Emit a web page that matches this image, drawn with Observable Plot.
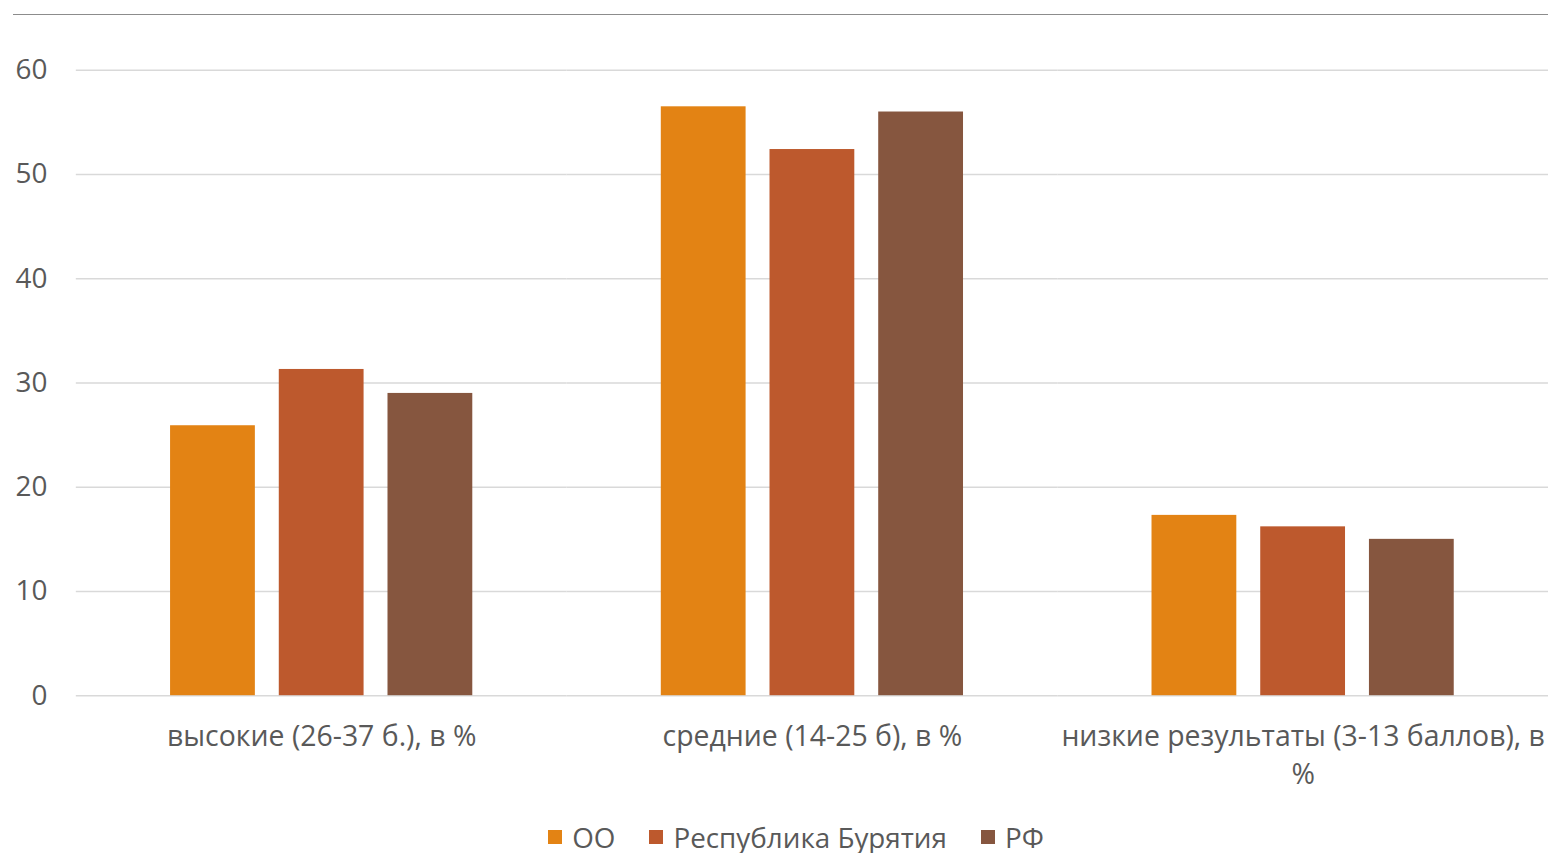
<!DOCTYPE html>
<html>
<head>
<meta charset="utf-8">
<script src="https://cdn.jsdelivr.net/npm/d3@7"></script>
<script src="https://cdn.jsdelivr.net/npm/@observablehq/plot@0.6"></script>
<style>
  html, body { margin: 0; padding: 0; background: #fff; }
  body { width: 1548px; height: 853px; position: relative; overflow: hidden; font-family: "Open Sans", sans-serif; }
  #topline { position: absolute; top: 14px; left: 13px; right: 0; border-top: 1.5px solid #8c8c8c; }
  #chart { position: absolute; top: 0; left: 0; }
  #legend { position: absolute; top: 818px; left: 22px; width: 1548px; display: flex; justify-content: center; align-items: center; gap: 34px; font-size: 27.8px; color: #595959; }
  .item { display: flex; align-items: center; gap: 10px; }
  .sw { width: 14px; height: 14px; display: inline-block; }
</style>
</head>
<body>
<div id="topline"></div>
<div id="chart"></div>
<div id="legend"></div>
<script>
const categories = ["высокие (26-37 б.), в %", "средние (14-25 б), в %", "низкие результаты (3-13 баллов), в %"];
const categoryLabels = ["высокие (26-37 б.), в %", "средние (14-25 б), в %", "низкие результаты (3-13 баллов), в\n%"];
const series = ["ОО", "Республика Бурятия", "РФ"];
const colors = ["#E38314", "#BD592D", "#86563F"];
const valuesOO = [25.9, 56.5, 17.3];
const valuesRB = [31.3, 52.4, 16.2];
const valuesRF = [29.0, 56.0, 15.0];
const yTicks = [0, 10, 20, 30, 40, 50, 60];

const seriesValues = [valuesOO, valuesRB, valuesRF];
const data = [];
categories.forEach((c, i) => series.forEach((s, j) => data.push({category: c, series: s, value: seriesValues[j][i]})));

const chart = Plot.plot({
  width: 1552,
  height: 802,
  marginLeft: 76,
  marginRight: 0,
  marginTop: 70,
  marginBottom: 105,
  style: {fontFamily: "Open Sans, sans-serif", fontSize: "28px", color: "#595959", background: "transparent", overflow: "visible"},
  fx: {domain: categories, padding: 0, label: null, round: false},
  x: {domain: series, paddingInner: 0.22, paddingOuter: 0.867, axis: null, round: false},
  y: {domain: [0, 60], label: null},
  color: {domain: series, range: colors},
  marks: [
    Plot.gridY(yTicks, {stroke: "#d9d9d9", strokeOpacity: 1, strokeWidth: 1.5}),
    Plot.axisY(yTicks, {tickSize: 0, tickPadding: 29, fontSize: 28, fill: "#595959"}),
    Plot.axisFx({anchor: "bottom", tickSize: 0, tickPadding: 24, fontSize: 28.5, fill: "#595959", lineHeight: 1.33,
      tickFormat: d => categoryLabels[categories.indexOf(d)], label: null}),
    Plot.barY(data, {fx: "category", x: "series", y: "value", fill: "series"})
  ]
});
document.getElementById("chart").appendChild(chart);

const legend = document.getElementById("legend");
series.forEach((s, j) => {
  const item = document.createElement("div");
  item.className = "item";
  const sw = document.createElement("span");
  sw.className = "sw";
  sw.style.background = colors[j];
  const t = document.createElement("span");
  t.textContent = s;
  item.appendChild(sw);
  item.appendChild(t);
  legend.appendChild(item);
});
</script>
</body>
</html>
